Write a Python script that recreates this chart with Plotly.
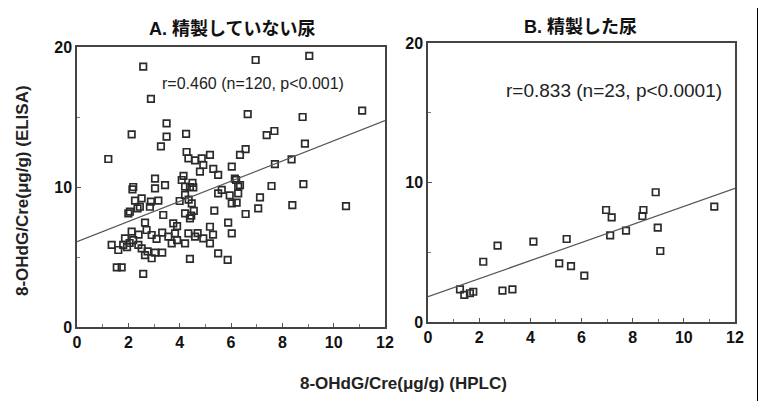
import plotly.graph_objects as go

# ---- data ----
a_x = [2.58, 2.88, 3.49, 3.49, 2.13, 4.25, 3.27, 1.22, 4.27, 4.34, 4.60, 4.86, 5.18, 4.92, 5.31,
       4.79, 5.50, 6.03, 3.04, 3.43, 4.08, 4.40, 2.19, 6.96, 9.05, 11.11, 6.65, 8.79, 7.69, 7.39,
       8.88, 6.57, 6.35, 7.71, 8.36, 6.15, 6.35, 7.58, 8.82, 2.16, 2.26, 2.52, 2.88, 3.17, 2.36,
       2.06, 2.00, 3.36, 4.21, 4.21, 4.53, 4.47, 4.21, 4.40, 5.35, 5.50, 5.64, 5.89, 6.03, 5.18,
       3.75, 2.65, 2.71, 2.13, 1.87, 1.35, 1.61, 1.80, 2.19, 2.39, 2.52, 2.65, 2.91, 3.04, 3.32,
       2.91, 3.32, 3.56, 3.82, 3.69, 4.34, 4.21, 4.60, 4.92, 5.18, 5.50, 5.87, 4.40, 1.55, 1.74,
       2.58, 6.03, 6.28, 6.28, 7.13, 7.06, 6.57, 8.39, 10.48, 2.45, 2.84, 4.35, 4.55, 4.15, 4.45,
       3.90, 2.40, 2.05, 3.10, 2.75, 4.70, 5.30, 3.90, 6.20, 5.95, 1.95, 4.00, 6.22, 3.04, 4.50]
a_y = [18.6, 16.3, 14.55, 13.6, 13.76, 13.8, 12.9, 12.0, 12.5, 12.05, 11.9, 12.05, 12.3, 11.57, 11.3,
       11.1, 10.86, 11.45, 10.6, 10.14, 10.5, 10.0, 10.0, 19.07, 19.36, 15.45, 15.2, 15.0, 14.0, 13.7,
       13.1, 12.7, 12.3, 11.64, 11.98, 10.6, 10.14, 10.07, 10.2, 9.83, 9.02, 9.19, 8.95, 9.02, 8.48,
       8.24, 8.12, 8.0, 10.02, 9.43, 9.98, 8.83, 8.12, 7.76, 8.31, 9.55, 9.79, 7.45, 6.69, 7.16,
       7.4, 7.45, 6.93, 6.81, 6.33, 5.86, 5.5, 5.86, 6.21, 5.86, 5.62, 5.14, 4.91, 5.31, 5.31,
       6.57, 6.74, 6.45, 6.69, 5.98, 6.69, 5.98, 6.45, 6.33, 5.98, 5.26, 4.79, 4.86, 4.26, 4.26,
       3.79, 8.83, 10.02, 9.55, 9.26, 8.48, 8.07, 8.71, 8.64, 8.59, 8.59, 9.1, 8.3, 10.8, 7.95,
       7.2, 6.6, 6.0, 6.3, 5.4, 6.7, 6.6, 6.2, 10.5, 9.4, 5.7, 9.0, 8.88, 9.9, 10.3]

b_x = [1.25, 1.42, 1.64, 1.77, 2.16, 2.72, 2.91, 3.30, 4.12, 5.13, 5.42, 5.59, 6.11, 6.96, 7.18,
       7.12, 7.74, 8.42, 8.38, 8.90, 8.98, 9.08, 11.19]
b_y = [2.34, 1.94, 2.06, 2.17, 4.32, 5.47, 2.25, 2.34, 5.76, 4.20, 5.95, 4.01, 3.32, 8.03, 7.50,
       6.21, 6.55, 8.03, 7.60, 9.30, 6.76, 5.09, 8.27]

fit_a_x = [0, 12]
fit_a_y = [6.1, 14.74]
fit_b_x = [0, 12]
fit_b_y = [1.81, 9.58]

x_ticks = [0, 2, 4, 6, 8, 10, 12]
y_ticks = [0, 10, 20]

title_a = "A. 精製していない尿"
title_b = "B. 精製した尿"
stat_a = "r=0.460 (n=120, p<0.001)"
stat_b = "r=0.833 (n=23, p<0.0001)"
xlabel = "8-OHdG/Cre(μg/g) (HPLC)"
ylabel = "8-OHdG/Cre(μg/g) (ELISA)"

W, H = 766, 401
OFF = 8  # page body margin offset
FONT = "Liberation Sans, Arial, Noto Sans CJK JP, sans-serif"
INK = "#2b2b2b"

fig = go.Figure()
marker = dict(symbol="square-open", size=6.5, color=INK, line=dict(width=1.7, color=INK))
fig.add_trace(go.Scatter(x=a_x, y=a_y, mode="markers", marker=marker, xaxis="x", yaxis="y",
                         showlegend=False, cliponaxis=False))
fig.add_trace(go.Scatter(x=fit_a_x, y=fit_a_y, mode="lines", line=dict(color="#555", width=1.2),
                         xaxis="x", yaxis="y", showlegend=False))
fig.add_trace(go.Scatter(x=b_x, y=b_y, mode="markers", marker=marker, xaxis="x2", yaxis="y2",
                         showlegend=False, cliponaxis=False))
fig.add_trace(go.Scatter(x=fit_b_x, y=fit_b_y, mode="lines", line=dict(color="#555", width=1.2),
                         xaxis="x2", yaxis="y2", showlegend=False))

def px(v):
    return (v - OFF) / W

def py(v):
    return 1 - (v - OFF) / H

tickfont = dict(family=FONT, size=16, color="#111", weight="bold")
common_x = dict(range=[0, 12], tickvals=x_ticks, ticks="inside", ticklen=4, tickcolor="#555",
                showline=True, linecolor="#444", linewidth=1.5, mirror=True, showgrid=False,
                zeroline=False, tickfont=tickfont, automargin=False,
                minor=dict(dtick=1, ticks="inside", ticklen=3, tickcolor="#777"))
common_y = dict(range=[0, 20], tickvals=y_ticks, ticks="inside", ticklen=4, tickcolor="#555",
                showline=True, linecolor="#444", linewidth=1.5, mirror=True, showgrid=False,
                zeroline=False, tickfont=tickfont, automargin=False,
                minor=dict(dtick=5, ticks="inside", ticklen=3, tickcolor="#777"))

def note(text, x, y, size, color="#111", angle=0):
    return dict(text=text, x=px(x), y=py(y), xref="paper", yref="paper", showarrow=False,
                xanchor="center", yanchor="middle", textangle=angle,
                font=dict(size=size, family=FONT, color=color))

fig.update_layout(
    width=W, height=H,
    margin=dict(l=0, r=0, t=0, b=0, pad=0, autoexpand=False),
    paper_bgcolor="white", plot_bgcolor="white",
    font=dict(family=FONT, color="#111"),
    xaxis=dict(domain=[px(77), px(385)], anchor="y", **common_x),
    yaxis=dict(domain=[py(327), py(47)], anchor="x", **common_y),
    xaxis2=dict(domain=[px(428), px(735)], anchor="y2", **common_x),
    yaxis2=dict(domain=[py(322), py(43)], anchor="x2", **common_y),
    annotations=[
        note("<b>" + title_a + "</b>", 232, 29, 18),
        note("<b>" + title_b + "</b>", 580, 27, 18),
        note(stat_a, 253, 83, 16, "#222"),
        note(stat_b, 614, 90, 19, "#222"),
        note("<b>" + xlabel + "</b>", 403, 383, 17, "#222"),
        note("<b>" + ylabel + "</b>", 22, 191, 17, "#222", -90),
    ],
    shapes=[dict(type="rect", xref="paper", yref="paper", x0=px(757), x1=px(762), y0=0, y1=1.05,
                 fillcolor="black", line=dict(width=0))],
)

fig.write_html("out.html")
